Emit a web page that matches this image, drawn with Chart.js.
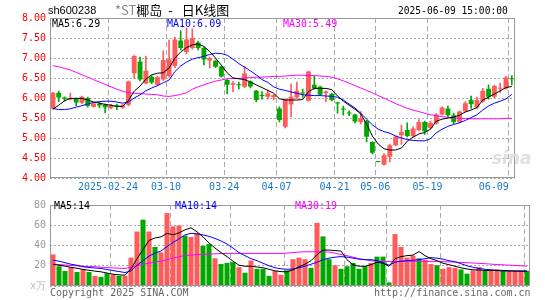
<!DOCTYPE html>
<html>
<head>
<meta charset="utf-8">
<script src="https://cdn.jsdelivr.net/npm/chart.js@4.4.1/dist/chart.umd.min.js"></script>
<style>
  body { margin: 0; background: #fff; }
  #lienzo { position: relative; width: 545px; height: 300px; overflow: hidden; }
  canvas { position: absolute; left: 0; }
  .txt { position: absolute; white-space: pre; font-family: 'DejaVu Sans Mono', monospace; font-size: 10px; line-height: 12px; }
</style>
</head>
<body>
<div id="lienzo">
  <canvas id="graficoPrecio" width="545" height="200" style="top:0"></canvas>
  <canvas id="graficoVolumen" width="545" height="105" style="top:195px"></canvas>

  <div class="txt" style="left:48px;top:4px;font-family:'Liberation Sans',sans-serif;font-size:11px">sh600238</div>
  <div class="txt" style="left:115px;top:2px;font-family:'Noto Sans CJK SC',sans-serif;font-size:13px;line-height:16px"><span style="color:#888">*ST</span>椰岛<span style="margin:0 9px 0 6px">-</span>日K线图</div>
  <div class="txt" style="left:398px;top:5px;font-size:9.6px">2025-06-09 15:00:00</div>

  <div class="txt" style="left:52px;top:18px;color:#000">MA5:6.29</div>
  <div class="txt" style="left:167px;top:18px;color:#0000ff">MA10:6.09</div>
  <div class="txt" style="left:283px;top:18px;color:#ff00ff">MA30:5.49</div>

  <div class="txt" style="left:492px;top:148px;font-family:'DejaVu Sans',sans-serif;font-size:17px;line-height:20px;font-weight:bold;font-style:italic;color:#e0e0e0">sina</div>

  <div class="txt" style="left:54px;top:200px;color:#000">MA5:14</div>
  <div class="txt" style="left:175px;top:200px;color:#0000ff">MA10:14</div>
  <div class="txt" style="left:295px;top:200px;color:#ff00ff">MA30:19</div>

  <div class="txt" style="left:50px;top:287px;color:#666">Copyright 2025 SINA.COM</div>
  <div class="txt" style="left:374px;top:287px;color:#666">http://finance.sina.com.cn</div>
</div>

<script>
// fechas de cada vela (el 04-30 no cotizó)
const fechas = [
  '2025-02-10', '2025-02-11', '2025-02-12', '2025-02-13', '2025-02-14',
  '2025-02-17', '2025-02-18', '2025-02-19', '2025-02-20', '2025-02-21',
  '2025-02-24', '2025-02-25', '2025-02-26', '2025-02-27', '2025-02-28',
  '2025-03-03', '2025-03-04', '2025-03-05', '2025-03-06', '2025-03-07',
  '2025-03-10', '2025-03-11', '2025-03-12', '2025-03-13', '2025-03-14',
  '2025-03-17', '2025-03-18', '2025-03-19', '2025-03-20', '2025-03-21',
  '2025-03-24', '2025-03-25', '2025-03-26', '2025-03-27', '2025-03-28',
  '2025-03-31', '2025-04-01', '2025-04-02', '2025-04-03', '2025-04-07',
  '2025-04-08', '2025-04-09', '2025-04-10', '2025-04-11', '2025-04-14',
  '2025-04-15', '2025-04-16', '2025-04-17', '2025-04-18', '2025-04-21',
  '2025-04-22', '2025-04-23', '2025-04-24', '2025-04-25', '2025-04-28',
  '2025-04-29', '2025-05-06', '2025-05-07', '2025-05-08', '2025-05-09',
  '2025-05-12', '2025-05-13', '2025-05-14', '2025-05-15', '2025-05-16',
  '2025-05-19', '2025-05-20', '2025-05-21', '2025-05-22', '2025-05-23',
  '2025-05-26', '2025-05-27', '2025-05-28', '2025-05-29', '2025-05-30',
  '2025-06-03', '2025-06-04', '2025-06-05', '2025-06-06', '2025-06-09'
];
const fechasMarcadas = ['2025-02-24', '2025-03-10', '2025-03-24', '2025-04-07',
  '2025-04-21', '2025-05-06', '2025-05-19', '2025-06-09'];

const apertura = [5.74, 6.13, 6.01, 5.96, 5.98, 5.88, 6.00, 5.78, 5.85, 5.83,
  5.75, 5.82, 5.76, 5.83, 6.62, 6.91, 6.37, 6.53, 6.33, 6.46,
  6.55, 6.80, 7.44, 7.15, 7.25, 7.39, 7.25, 6.94, 6.93, 6.79,
  6.45, 6.33, 6.34, 6.28, 6.41, 6.18, 6.07, 6.03, 6.02, 5.74,
  5.28, 5.84, 6.01, 6.13, 5.93, 6.33, 6.28, 6.12, 6.10, 5.88,
  5.73, 5.63, 5.59, 5.40, 5.42, 4.90, 4.41, 4.33, 4.53, 4.82,
  5.07, 5.20, 5.05, 5.20, 5.40, 5.25, 5.36, 5.59, 5.74, 5.57,
  5.40, 5.67, 5.95, 5.76, 5.91, 6.23, 6.03, 6.23, 6.24, 6.49];
const maximo = [6.14, 6.17, 6.03, 6.12, 6.00, 6.05, 6.02, 5.87, 5.89, 5.85,
  5.84, 5.85, 5.84, 6.42, 7.06, 7.02, 7.05, 6.56, 6.54, 7.18,
  7.45, 7.52, 7.68, 7.75, 7.73, 7.42, 7.27, 7.02, 6.95, 6.80,
  6.46, 6.41, 6.40, 6.80, 6.43, 6.19, 6.16, 6.20, 6.09, 5.78,
  5.98, 6.35, 6.40, 6.22, 6.67, 6.55, 6.30, 6.18, 6.12, 5.90,
  5.80, 5.68, 5.60, 5.66, 5.44, 4.91, 4.41, 4.61, 4.85, 5.05,
  5.32, 5.38, 5.28, 5.46, 5.42, 5.42, 5.61, 5.78, 5.80, 5.62,
  5.68, 5.91, 6.05, 6.02, 6.24, 6.33, 6.32, 6.37, 6.54, 6.56];
const minimo = [5.72, 5.91, 5.92, 5.95, 5.80, 5.86, 5.77, 5.77, 5.76, 5.63,
  5.73, 5.71, 5.74, 5.80, 6.49, 6.43, 6.35, 6.36, 6.30, 6.44,
  6.52, 6.75, 7.20, 7.10, 7.22, 7.20, 6.83, 6.75, 6.76, 6.52,
  6.10, 6.16, 6.22, 6.26, 6.25, 5.90, 5.97, 5.97, 5.95, 5.40,
  5.25, 5.53, 5.99, 6.02, 5.92, 6.22, 6.06, 5.91, 5.93, 5.62,
  5.57, 5.56, 5.38, 5.35, 4.90, 4.60, 4.40, 4.32, 4.40, 4.80,
  4.84, 5.03, 5.03, 5.18, 5.09, 5.23, 5.34, 5.57, 5.53, 5.36,
  5.38, 5.65, 5.74, 5.74, 5.89, 5.97, 6.01, 6.14, 6.22, 6.33];
const cierre = [6.13, 6.01, 5.98, 6.00, 5.89, 6.03, 5.80, 5.86, 5.81, 5.76,
  5.82, 5.78, 5.82, 6.41, 7.05, 6.46, 6.68, 6.39, 6.52, 6.95,
  6.97, 7.46, 7.25, 7.46, 7.50, 7.25, 6.96, 7.00, 6.78, 6.54,
  6.33, 6.37, 6.32, 6.62, 6.29, 5.95, 6.05, 6.12, 6.07, 5.45,
  5.97, 6.03, 6.18, 6.11, 6.66, 6.24, 6.08, 6.16, 5.95, 5.86,
  5.71, 5.61, 5.41, 5.49, 5.03, 4.63, 4.40, 4.57, 4.82, 5.03,
  5.15, 5.05, 5.24, 5.40, 5.17, 5.38, 5.59, 5.76, 5.57, 5.40,
  5.66, 5.87, 5.85, 5.95, 6.18, 6.03, 6.30, 6.25, 6.51, 6.47];

const ma5 = [5.72, 5.82, 5.93, 5.99, 5.99, 5.99, 5.95, 5.90, 5.87, 5.84,
  5.82, 5.79, 5.79, 5.94, 6.17, 6.30, 6.47, 6.58, 6.62, 6.63,
  6.75, 7.00, 7.15, 7.26, 7.33, 7.35, 7.29, 7.16, 7.00, 6.82,
  6.63, 6.50, 6.48, 6.46, 6.40, 6.33, 6.26, 6.19, 6.12, 5.98,
  5.95, 5.95, 5.95, 5.96, 6.16, 6.24, 6.24, 6.24, 6.21, 6.05,
  5.92, 5.82, 5.72, 5.60, 5.35, 5.05, 4.85, 4.73, 4.70, 4.70,
  4.75, 4.92, 5.02, 5.10, 5.14, 5.22, 5.42, 5.47, 5.50, 5.52,
  5.57, 5.65, 5.70, 5.76, 5.95, 6.02, 6.10, 6.18, 6.26, 6.29];
const ma10 = [5.74, 5.71, 5.71, 5.73, 5.77, 5.81, 5.85, 5.89, 5.91, 5.92,
  5.92, 5.90, 5.87, 5.90, 6.00, 6.08, 6.18, 6.25, 6.31, 6.38,
  6.45, 6.66, 6.80, 6.90, 6.97, 7.01, 7.04, 7.09, 7.12, 7.11,
  7.07, 6.97, 6.86, 6.77, 6.68, 6.58, 6.46, 6.39, 6.28, 6.22,
  6.19, 6.15, 6.12, 6.08, 6.07, 6.06, 6.06, 6.05, 6.04, 6.02,
  5.95, 5.85, 5.75, 5.62, 5.47, 5.33, 5.22, 5.16, 5.12, 5.05,
  5.00, 4.96, 4.94, 4.93, 4.93, 4.98, 5.13, 5.22, 5.29, 5.34,
  5.38, 5.44, 5.51, 5.58, 5.70, 5.80, 5.87, 5.92, 5.98, 6.09];
const ma30 = [6.81, 6.78, 6.74, 6.70, 6.64, 6.58, 6.52, 6.46, 6.40, 6.34,
  6.28, 6.22, 6.17, 6.13, 6.12, 6.11, 6.10, 6.09, 6.08, 6.05,
  6.04, 6.06, 6.09, 6.13, 6.22, 6.28, 6.33, 6.38, 6.42, 6.45,
  6.48, 6.49, 6.49, 6.50, 6.51, 6.52, 6.52, 6.53, 6.54, 6.54,
  6.55, 6.56, 6.57, 6.57, 6.56, 6.56, 6.55, 6.54, 6.52, 6.48,
  6.43, 6.37, 6.31, 6.25, 6.19, 6.13, 6.06, 6.00, 5.93, 5.86,
  5.80, 5.74, 5.70, 5.66, 5.62, 5.58, 5.56, 5.53, 5.52, 5.50,
  5.49, 5.49, 5.48, 5.48, 5.48, 5.48, 5.48, 5.48, 5.49, 5.49];

// volumen en 万手
const volumen = [31.2, 19.5, 14.8, 18.6, 13.8, 16.4, 13.8, 10.0, 9.0, 12.6,
  11.3, 10.0, 10.0, 28.0, 53.8, 65.5, 53.8, 38.6, 33.2, 72.0,
  58.9, 59.8, 49.7, 48.4, 52.2, 39.8, 41.4, 27.4, 21.7, 22.7,
  23.6, 18.6, 13.1, 25.2, 17.0, 17.0, 10.0, 14.8, 11.0, 15.4,
  26.5, 28.0, 26.5, 17.9, 62.4, 49.0, 26.5, 20.5, 17.0, 19.5,
  22.7, 17.0, 19.5, 22.7, 29.0, 29.0, 3.6, 51.3, 38.6, 28.0,
  30.0, 27.4, 25.9, 21.7, 20.5, 17.0, 18.6, 17.9, 16.4, 12.2,
  15.4, 18.6, 15.4, 15.4, 16.4, 15.0, 15.0, 15.0, 15.0, 15.0];
const volMa5 = [21.5, 20.5, 19.6, 18.5, 17.5, 16.4, 15.5, 14.7, 14.0, 12.8,
  11.6, 11.0, 10.7, 17.0, 27.0, 36.0, 45.0, 47.5, 48.5, 52.0,
  50.5, 52.5, 55.5, 57.5, 53.5, 48.5, 42.5, 37.5, 33.0, 29.0,
  24.5, 20.5, 19.5, 19.5, 18.8, 18.0, 16.5, 15.0, 14.2, 14.0,
  16.0, 19.0, 21.5, 25.0, 31.0, 35.5, 35.5, 35.0, 34.5, 26.0,
  21.0, 19.5, 19.5, 21.0, 23.5, 22.5, 19.5, 27.0, 29.0, 30.0,
  30.5, 34.0, 30.0, 27.0, 25.0, 22.5, 21.0, 19.5, 18.0, 16.8,
  16.0, 15.8, 15.4, 15.4, 15.2, 15.0, 14.9, 14.8, 14.8, 14.8];
const volMa10 = [25.5, 24.5, 23.0, 21.5, 20.5, 19.0, 18.3, 17.8, 17.3, 16.3,
  15.2, 14.3, 13.3, 15.0, 20.5, 25.0, 29.5, 32.5, 34.5, 39.0,
  43.0, 46.5, 50.5, 52.0, 51.5, 50.5, 49.0, 47.0, 44.5, 41.5,
  37.5, 33.0, 30.0, 27.0, 25.0, 22.5, 20.0, 18.0, 17.0, 16.5,
  16.8, 18.0, 19.5, 21.5, 23.5, 26.0, 27.5, 28.5, 29.0, 28.5,
  27.5, 26.5, 26.0, 26.0, 25.0, 23.0, 20.5, 23.5, 24.5, 25.0,
  25.5, 26.0, 27.0, 28.0, 27.5, 26.5, 25.0, 24.0, 22.0, 20.0,
  18.5, 17.3, 16.5, 16.0, 15.6, 15.3, 15.0, 14.8, 14.6, 14.4];
const volMa30 = [21.7, 21.2, 20.8, 20.3, 19.9, 19.5, 19.2, 19.0, 18.6, 18.2,
  17.9, 17.6, 17.3, 18.5, 20.0, 21.5, 22.5, 23.5, 24.5, 26.0,
  27.5, 29.0, 30.0, 30.5, 31.0, 31.3, 31.5, 31.8, 32.0, 32.2,
  32.2, 32.2, 32.2, 32.2, 32.2, 32.2, 32.2, 32.2, 32.2, 32.5,
  33.0, 33.5, 33.8, 33.8, 33.8, 33.8, 33.5, 32.5, 31.0, 30.0,
  28.5, 27.0, 26.0, 25.0, 24.5, 24.3, 24.3, 24.3, 24.3, 24.3,
  24.3, 24.3, 24.3, 24.3, 24.3, 24.0, 23.8, 23.6, 23.3, 23.0,
  22.7, 22.4, 22.0, 21.6, 21.2, 20.9, 20.6, 20.3, 20.0, 19.5];

const ROJO = '#ff5b5b';
const VERDE = '#00a800';
const MONO = 'DejaVu Sans Mono';

const colores = cierre.map((c, i) => c >= apertura[i] ? ROJO : VERDE);
const mechas = minimo.map((l, i) => [l, maximo[i]]);
const cuerpos = apertura.map((o, i) => [o, cierre[i]]);
const idxMarcas = fechasMarcadas.map(f => fechas.indexOf(f));

// marco gris alrededor del area de dibujo
const marco = {
  id: 'marco',
  afterDraw(chart) {
    const { ctx, chartArea: a } = chart;
    ctx.save();
    ctx.strokeStyle = '#999';
    ctx.lineWidth = 1;
    ctx.strokeRect(Math.round(a.left) + 0.5, Math.round(a.top) + 0.5,
      Math.round(a.width) - 1, Math.round(a.height) - 1);
    ctx.restore();
  }
};

function lineaMA(datos, color) {
  return {
    type: 'line', data: datos, borderColor: color, borderWidth: 1,
    pointRadius: 0, tension: 0, fill: false, order: 0
  };
}

const ejeX = (mostrarEtiquetas, alto) => ({
  offset: true,
  grid: {
    offset: true, drawTicks: false, lineWidth: 1,
    color: c => idxMarcas.includes(c.index) ? '#aaa' : 'rgba(0,0,0,0)'
  },
  border: { display: false, dash: [5, 3] },
  ticks: {
    display: mostrarEtiquetas, autoSkip: false, maxRotation: 0, minRotation: 0,
    padding: 3, labelOffset: -3, color: '#1e78c8',
    font: { family: MONO, size: 10 },
    callback: (v, i) => {
      const k = idxMarcas.indexOf(i);
      if (k < 0) return '';
      if (k === 0) return fechas[i];
      if (k === idxMarcas.length - 1) return fechas[i].slice(5) + '     ';
      return fechas[i].slice(5);
    }
  },
  afterFit: s => { s.height = alto; }
});

function crearGraficoPrecio() {
  const ctx = document.getElementById('graficoPrecio').getContext('2d');
  window.chartPrecio = new Chart(ctx, {
    type: 'bar',
    data: {
      labels: fechas,
      datasets: [
        lineaMA(ma5, '#000000'),
        lineaMA(ma10, '#0000ff'),
        lineaMA(ma30, '#ff00ff'),
        {
          data: mechas, backgroundColor: colores, barThickness: 1,
          grouped: false, order: 2
        },
        {
          data: cuerpos, backgroundColor: colores, barPercentage: 0.84,
          categoryPercentage: 1, minBarLength: 1, grouped: false, order: 1
        }
      ]
    },
    options: {
      responsive: false,
      animation: false,
      layout: { padding: { top: 18, right: 15, left: 0, bottom: 0 } },
      plugins: { legend: { display: false }, tooltip: { enabled: false } },
      scales: {
        x: ejeX(true, 22),
        y: {
          min: 4, max: 8,
          grid: { color: '#aaa', drawTicks: false },
          border: { display: false, dash: [2, 2] },
          ticks: {
            stepSize: 0.5, padding: 4, color: '#ff0000',
            font: { family: MONO, size: 10 },
            callback: v => v.toFixed(2)
          },
          afterFit: s => { s.width = 50; }
        }
      }
    },
    plugins: [marco]
  });
}

function crearGraficoVolumen() {
  const ctx = document.getElementById('graficoVolumen').getContext('2d');
  window.chartVolumen = new Chart(ctx, {
    type: 'bar',
    data: {
      labels: fechas,
      datasets: [
        lineaMA(volMa5, '#000000'),
        lineaMA(volMa10, '#0000ff'),
        lineaMA(volMa30, '#ff00ff'),
        {
          data: volumen, backgroundColor: colores, barPercentage: 0.84,
          categoryPercentage: 1, order: 1
        }
      ]
    },
    options: {
      responsive: false,
      animation: false,
      layout: { padding: { top: 6, right: 15, left: 0, bottom: 0 } },
      plugins: { legend: { display: false }, tooltip: { enabled: false } },
      scales: {
        x: ejeX(false, 14),
        y: {
          min: 0, max: 80,
          grid: { color: '#aaa', drawTicks: false },
          border: { display: false, dash: [2, 2] },
          ticks: {
            stepSize: 20, padding: 4,
            color: c => c.tick && c.tick.value === 0 ? '#bbb' : '#999',
            font: { family: MONO, size: 10 },
            callback: v => v === 0 ? 'x万' : String(v)
          },
          afterFit: s => { s.width = 50; }
        }
      }
    },
    plugins: [marco]
  });
}

crearGraficoPrecio();
crearGraficoVolumen();
</script>
</body>
</html>
